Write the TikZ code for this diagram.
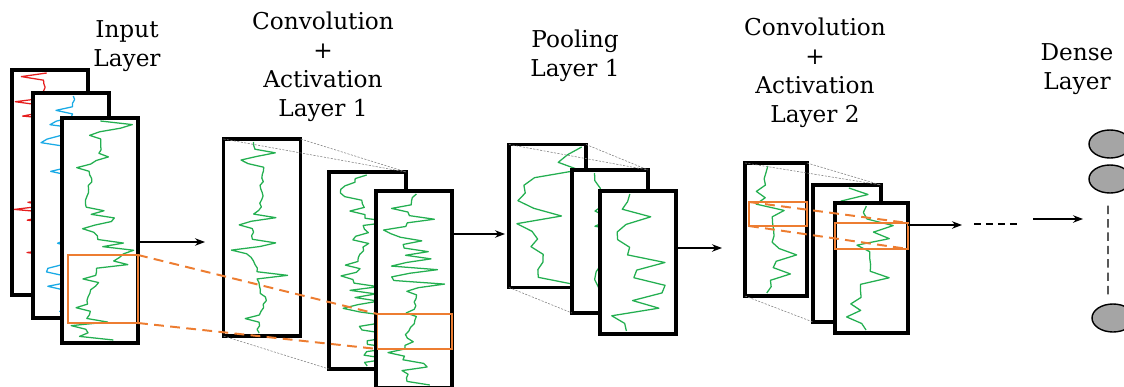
\documentclass[tikz,border=0pt]{standalone}
\usepackage{fontspec}
\setmainfont{DejaVu Serif}
\usepackage{tikz}
\usetikzlibrary{arrows.meta, positioning, shapes.geometric, calc}

\definecolor{sigred}{RGB}{230,30,30}
\definecolor{sigblue}{RGB}{25,170,230}
\definecolor{siggreen}{RGB}{35,175,80}
\definecolor{boxorange}{RGB}{237,125,49}
\definecolor{unitgray}{RGB}{165,165,165}

% signal trace: colour, base x, top y, bottom y, left reach, right reach, seed, step
\newcommand{\signal}[8]{%
  \pgfmathsetseed{#7}%
  \pgfmathtruncatemacro{\nsamp}{(#4-#3)/#8}%
  \draw[#1, line width=0.9pt, line join=round]
    plot[variable=\t, samples=\nsamp, domain=#3:#4]
      ({#2 + 7*sin(3*\t + 37*#7) + 2*sin(11*\t + 53*#7) + 2*rand
        + (rnd>0.78)*(#6*(0.6+0.4*rnd)) - (rnd>0.84)*(#5*(0.5+0.5*rnd))}, {\t});
}

\begin{document}
\begin{tikzpicture}[
  x=0.025cm, y=-0.025cm,
  title/.style={align=center, font=\fontsize{16.5}{20.5}\selectfont},
  frame/.style={draw, line width=2.3pt, fill=white, inner sep=0pt, outer sep=0pt},
  window/.style={draw=boxorange, line width=1.4pt, inner sep=0pt, outer sep=0pt},
  link/.style={draw=boxorange, line width=1.4pt, dash pattern=on 7pt off 4.5pt},
  guide/.style={draw=gray, line width=0.4pt, dash pattern=on 1.5pt off 1pt},
  arrow/.style={-{Stealth[length=2.5mm]}, line width=0.9pt},
  unit/.style={ellipse, draw, line width=1pt, fill=unitgray,
               minimum width=1.05cm, minimum height=0.7cm},
]
\useasboundingbox (0,0) rectangle (1124,387);

% Titles
\node[title] (tin) at (127,46) {Input\\Layer};
\node[title] (tc1) at (323,67) {Convolution\\+\\Activation\\Layer 1};
\node[title] (tp1) at (575,56) {Pooling\\Layer 1};
\node[title] (tc2) at (815,73) {Convolution\\+\\Activation\\Layer 2};
\node[title] (tde) at (1077,69) {Dense\\Layer};

% Input layer (three channels)
\node[frame, minimum width=1.9cm, minimum height=5.625cm] (in1) at (50,182.5) {};
\signal{sigred}{50}{73}{292}{30}{20}{9}{3.5}
\node[frame, minimum width=1.9cm, minimum height=5.625cm] (in2) at (71,205.5) {};
\signal{sigblue}{69}{96}{315}{23}{26}{5}{3.5}
\node[frame, minimum width=1.9cm, minimum height=5.625cm] (in3) at (100,230.5) {};
\signal{siggreen}{94}{121}{340}{18}{31}{11}{3.5}
\node[window, minimum width=1.75cm, minimum height=1.7cm] (win1) at (103,289) {};

% Convolution + activation 1
\node[frame, minimum width=1.925cm, minimum height=4.925cm] (c1a) at (262,237.5) {};
\signal{siggreen}{256}{142}{333}{19}{32}{7}{3.5}
\node[frame, minimum width=1.925cm, minimum height=4.925cm] (c1b) at (367.5,270.5) {};
\signal{siggreen}{360}{175}{366}{17}{33}{13}{3.5}
\node[frame, minimum width=1.9cm, minimum height=4.925cm] (c1c) at (414,289.5) {};
\signal{siggreen}{410}{194}{385}{20}{29}{17}{3.5}
\node[window, minimum width=1.85cm, minimum height=0.875cm] (win2) at (414.5,331.5) {};

% Pooling 1
\node[frame, minimum width=1.925cm, minimum height=3.575cm] (p1a) at (547.5,216) {};
\signal{siggreen}{540}{147}{285}{17}{33}{19}{7}
\node[frame, minimum width=1.9cm, minimum height=3.575cm] (p1b) at (610,241.5) {};
\signal{siggreen}{603}{173}{310}{17}{32}{23}{7}
\node[frame, minimum width=1.9cm, minimum height=3.575cm] (p1c) at (638,262.5) {};
\signal{siggreen}{631}{194}{331}{17}{32}{29}{7}

% Convolution + activation 2
\node[frame, minimum width=1.55cm, minimum height=3.325cm] (c2a) at (776,229.5) {};
\signal{siggreen}{771}{166}{293}{12}{23}{31}{6}
\node[frame, minimum width=1.7cm, minimum height=3.425cm] (c2b) at (847,253.5) {};
\signal{siggreen}{841}{188}{318}{14}{27}{37}{6}
\node[frame, minimum width=1.825cm, minimum height=3.25cm] (c2c) at (871.5,268) {};
\signal{siggreen}{866}{206}{330}{17}{29}{41}{6}
\node[window, minimum width=1.45cm, minimum height=0.6cm] (w2a) at (778,214) {};
\node[window, minimum width=1.825cm, minimum height=0.65cm] (w2b) at (871.5,236) {};

% projection guides
\draw[guide] (c1a.north west) -- (c1b.north east);
\draw[guide] (c1a.north east) -- (c1b.north east);
\draw[guide] (c1a.south west) -- (c1b.south west);
\draw[guide] (p1a.north west) -- (p1b.north east);
\draw[guide] (p1a.north east) -- (p1b.north east);
\draw[guide] (p1a.south west) -- (p1b.south west);
\draw[guide] (c2a.north west) -- (c2b.north east);
\draw[guide] (c2a.north east) -- (c2b.north east);
\draw[guide] (c2a.south west) -- (c2b.south west);

% receptive fields
\draw[link] (win1.north east) -- (win2.north west);
\draw[link] (win1.south east) -- (win2.south west);
\draw[link] (w2a.north west) -- (w2b.north east);
\draw[link] (w2a.south west) -- (w2b.south east);

% flow between layers
\coordinate (a1) at (205,242);
\draw[arrow] (in3.east |- a1) -- (a1);
\coordinate (a2) at (505,234);
\draw[arrow] (c1c.east |- a2) -- (a2);
\coordinate (a3) at (722,248);
\draw[arrow] (p1c.east |- a3) -- (a3);
\coordinate (a4) at (962,225);
\draw[arrow] (c2c.east |- a4) -- (a4);
\coordinate (gapl) at (974,224);
\coordinate (gapr) at (1020,224);
\draw[line width=0.9pt, dash pattern=on 5pt off 3.5pt] (gapl) -- (gapr);
\coordinate (a5s) at (1033,219);
\coordinate (a5) at (1083,219);
\draw[arrow] (a5s) -- (a5);

% Dense layer
\node[unit] (d1) at (1110,144) {};
\node[unit] (d2) at (1110,179) {};
\node[unit] (d3) at (1113,318) {};
\draw[line width=0.9pt, dash pattern=on 6pt off 3.5pt, shorten <=0.3cm, shorten >=0.22cm]
  ([xshift=-0.05cm]d2.south) -- ([xshift=-0.125cm]d3.north);

\end{tikzpicture}
\end{document}
